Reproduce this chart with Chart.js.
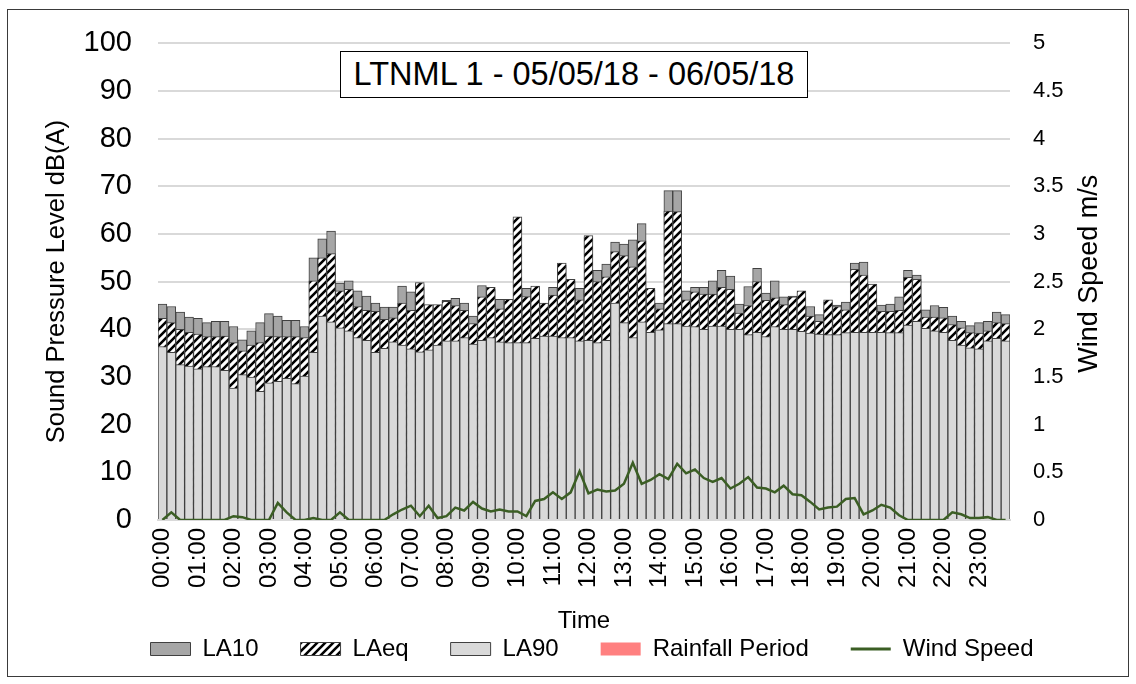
<!DOCTYPE html>
<html>
<head>
<meta charset="utf-8">
<script src="https://cdn.jsdelivr.net/npm/chart.js@4.4.1/dist/chart.umd.min.js"></script>
<style>
  html, body { margin: 0; padding: 0; background: #fff; }
  #wrap { position: relative; width: 1136px; height: 684px; }
  #frame { position: absolute; left: 7px; top: 9px; width: 1122px; height: 668px; border: 1px solid #3a3a3a; box-sizing: border-box; pointer-events: none; }
  #title { position: absolute; left: 340px; top: 51px; width: 468px; height: 47px; border: 1px solid #000; background: #fff; box-sizing: border-box;
           font: 32.5px "Liberation Sans", Arial, sans-serif; text-align: center; line-height: 45px; color: #000; white-space: nowrap; }
</style>
</head>
<body>
<div id="wrap">
  <canvas id="noiseChart" width="1136" height="684"></canvas>
  <div id="frame"></div>
  <div id="title">LTNML 1 - 05/05/18 - 06/05/18</div>
</div>
<script>
// 15 minute periods
const times = [
  "00:00","00:15","00:30","00:45","01:00","01:15","01:30","01:45",
  "02:00","02:15","02:30","02:45","03:00","03:15","03:30","03:45",
  "04:00","04:15","04:30","04:45","05:00","05:15","05:30","05:45",
  "06:00","06:15","06:30","06:45","07:00","07:15","07:30","07:45",
  "08:00","08:15","08:30","08:45","09:00","09:15","09:30","09:45",
  "10:00","10:15","10:30","10:45","11:00","11:15","11:30","11:45",
  "12:00","12:15","12:30","12:45","13:00","13:15","13:30","13:45",
  "14:00","14:15","14:30","14:45","15:00","15:15","15:30","15:45",
  "16:00","16:15","16:30","16:45","17:00","17:15","17:30","17:45",
  "18:00","18:15","18:30","18:45","19:00","19:15","19:30","19:45",
  "20:00","20:15","20:30","20:45","21:00","21:15","21:30","21:45",
  "22:00","22:15","22:30","22:45","23:00","23:15","23:30","23:45"
];

const la10 = [
  45.3, 44.8, 43.6, 42.6, 42.3, 41.4, 41.7, 41.7, 40.6, 37.8, 39.7, 41.4,
  43.3, 42.8, 41.9, 41.9, 40.6, 55.0, 59.0, 60.6, 49.7, 50.2, 48.1, 47.0,
  45.5, 44.7, 44.7, 49.1, 47.9, 49.4, 44.8, 44.8, 46.1, 46.5, 45.5, 42.8,
  49.2, 48.4, 46.3, 45.9, 63.2, 48.6, 48.7, 45.1, 48.8, 53.5, 50.1, 48.6,
  59.3, 52.4, 53.7, 58.3, 57.9, 58.8, 62.2, 48.2, 45.5, 69.1, 69.1, 48.1,
  48.8, 48.8, 50.2, 52.4, 51.2, 45.3, 49.0, 52.8, 47.6, 50.2, 46.8, 47.0,
  47.7, 44.8, 43.1, 45.8, 45.1, 45.7, 53.9, 54.1, 49.1, 45.1, 45.3, 46.8,
  52.4, 51.4, 44.1, 45.0, 44.6, 42.8, 41.7, 40.8, 41.4, 41.7, 43.6, 43.1
];

const laeq = [
  42.3, 41.4, 40.0, 39.4, 39.0, 38.5, 38.5, 38.6, 37.2, 35.5, 36.7, 37.2,
  38.6, 38.5, 38.5, 38.5, 38.3, 50.2, 55.0, 55.9, 48.1, 48.4, 44.8, 44.0,
  43.8, 42.1, 42.4, 45.5, 44.0, 49.8, 45.2, 45.2, 45.9, 45.0, 44.0, 41.2,
  46.8, 48.8, 44.3, 46.3, 63.6, 46.9, 49.1, 45.5, 47.2, 53.9, 50.5, 46.2,
  59.7, 50.0, 51.0, 56.3, 55.5, 53.1, 58.6, 48.6, 44.3, 64.8, 64.7, 46.2,
  47.9, 47.4, 47.4, 48.8, 48.4, 43.4, 45.0, 50.0, 46.1, 46.6, 45.2, 46.8,
  48.1, 42.8, 41.7, 46.2, 44.8, 44.1, 52.6, 51.4, 49.5, 43.8, 43.8, 44.0,
  50.9, 50.5, 42.6, 42.6, 42.4, 41.0, 40.3, 39.3, 39.2, 39.7, 41.4, 41.2
];

const la90 = [
  36.4, 35.2, 32.6, 32.3, 31.7, 32.2, 32.2, 31.4, 27.7, 30.5, 30.0, 27.0,
  28.8, 29.1, 29.7, 28.6, 30.2, 35.2, 42.8, 41.6, 40.3, 39.7, 38.3, 37.7,
  35.2, 36.0, 37.4, 36.7, 35.9, 35.3, 35.7, 36.7, 37.6, 37.6, 38.3, 36.9,
  37.7, 38.3, 37.4, 37.2, 37.2, 37.2, 38.1, 38.6, 38.6, 38.3, 38.3, 37.6,
  37.7, 37.2, 37.7, 45.5, 41.4, 38.3, 41.6, 39.4, 39.9, 41.2, 41.2, 40.7,
  40.6, 40.0, 40.7, 40.7, 40.0, 40.0, 38.9, 39.4, 38.5, 40.6, 40.0, 40.0,
  39.6, 39.2, 39.0, 38.9, 38.9, 39.3, 39.4, 39.4, 39.4, 39.4, 39.3, 39.3,
  40.9, 41.7, 40.2, 39.7, 39.4, 37.7, 36.7, 36.1, 35.9, 37.6, 38.1, 37.6
];

const windSpeed = [
  0.00, 0.08, 0.00, 0.00, 0.00, 0.00, 0.00, 0.00, 0.04, 0.03, 0.00, 0.00,
  0.00, 0.18, 0.08, 0.00, 0.00, 0.02, 0.00, 0.00, 0.08, 0.00, 0.00, 0.00,
  0.00, 0.00, 0.06, 0.11, 0.15, 0.04, 0.15, 0.02, 0.04, 0.13, 0.10, 0.19,
  0.12, 0.09, 0.11, 0.09, 0.09, 0.04, 0.20, 0.22, 0.29, 0.22, 0.29, 0.51,
  0.28, 0.32, 0.30, 0.31, 0.38, 0.60, 0.38, 0.42, 0.48, 0.43, 0.59, 0.49,
  0.53, 0.44, 0.40, 0.44, 0.33, 0.38, 0.45, 0.34, 0.33, 0.29, 0.36, 0.27,
  0.26, 0.19, 0.11, 0.13, 0.14, 0.22, 0.23, 0.06, 0.10, 0.16, 0.13, 0.05,
  0.00, 0.00, 0.00, 0.00, 0.00, 0.08, 0.06, 0.02, 0.02, 0.03, 0.00, 0.00
];

const rainfall = [];

const dbTicks = { min: 0, max: 100, step: 10 };
const windTicks = { min: 0, max: 5, step: 0.5 };

// hatch for LAeq (wide upward diagonal)
const makeHatch = () => {
    const c = document.createElement('canvas');
    c.width = 8;
    c.height = 8;
    const g = c.getContext('2d');
    g.fillStyle = '#fff';
    g.fillRect(0, 0, 8, 8);
    g.strokeStyle = '#000';
    g.lineWidth = 2.6;
    g.beginPath();
    g.moveTo(-1, 9); g.lineTo(9, -1);
    g.moveTo(-3, 3); g.lineTo(3, -3);
    g.moveTo(5, 11); g.lineTo(11, 5);
    g.stroke();
    return g.createPattern(c, 'repeat');
};

// right axis title reads bottom to top like the left one
const rightTitle = {
    id: 'rightTitle',
    afterDraw(chart) {
        const { ctx, chartArea } = chart;
        const s = chart.scales.y1;
        ctx.save();
        ctx.translate(s.right - 38, (chartArea.top + chartArea.bottom) / 2 - 8);
        ctx.rotate(-Math.PI / 2);
        ctx.font = '27px "Liberation Sans", Arial, sans-serif';
        ctx.fillStyle = '#000';
        ctx.textAlign = 'center';
        ctx.textBaseline = 'middle';
        ctx.fillText('Wind Speed m/s', 0, 0);
        ctx.restore();
    }
};

// legend sits a little right of centre in the original
const legendShift = {
    id: 'legendShift',
    afterLayout(chart) {
        chart.legend.left += 24;
        chart.legend.right += 24;
    }
};

Chart.defaults.font.family = '"Liberation Sans", Arial, sans-serif';
Chart.defaults.color = '#000';
const baseLabels = Chart.defaults.plugins.legend.labels.generateLabels;

const ctx = document.getElementById('noiseChart').getContext('2d');
new Chart(ctx, {
    type: 'bar',
    data: {
        labels: times,
        datasets: [
            { label: 'LA10', data: la10, backgroundColor: '#a6a6a6', borderColor: '#404040', borderWidth: 1, order: 3 },
            { label: 'LAeq', data: laeq, backgroundColor: makeHatch(), borderColor: '#404040', borderWidth: 1, order: 2 },
            { label: 'LA90', data: la90, backgroundColor: '#d9d9d9', borderColor: '#404040', borderWidth: 1, order: 1 },
            { label: 'Rainfall Period', data: rainfall, backgroundColor: '#ff8080', borderWidth: 0, order: 4 },
            { label: 'Wind Speed', type: 'line', data: windSpeed, yAxisID: 'y1', borderColor: '#3b5e24',
              borderWidth: 2.5, pointRadius: 0, tension: 0, order: 0 }
        ]
    },
    options: {
        responsive: false,
        animation: false,
        layout: { padding: { top: 37, left: 8, right: 8, bottom: 13 } },
        datasets: { bar: { grouped: false, barPercentage: 1, categoryPercentage: 1 } },
        scales: {
            x: {
                ticks: {
                    autoSkip: false, maxRotation: 90, minRotation: 90, padding: 8,
                    font: { size: 24 },
                    callback(v, i) { return i % 4 === 0 ? this.getLabelForValue(v) : ''; }
                },
                grid: { display: false, drawTicks: false },
                border: { display: true, color: '#d9d9d9', width: 2 },
                title: { display: true, text: 'Time', font: { size: 24 }, padding: { top: 0, bottom: -41 } },
                afterFit(s) { s.height = 75; }
            },
            y: {
                min: dbTicks.min, max: dbTicks.max,
                ticks: { stepSize: dbTicks.step, padding: 26, font: { size: 29 } },
                grid: { color: '#d9d9d9', lineWidth: 2, drawTicks: false },
                border: { display: false },
                title: { display: true, text: 'Sound Pressure Level dB(A)', font: { size: 25.5 }, padding: { top: 34, bottom: 0 } },
                afterFit(s) { s.width = 150; }
            },
            y1: {
                position: 'right',
                min: windTicks.min, max: windTicks.max,
                ticks: { stepSize: windTicks.step, padding: 23, font: { size: 22 }, callback: v => String(v) },
                grid: { drawOnChartArea: false, drawTicks: false },
                border: { display: false },
                afterFit(s) { s.width = 118; }
            }
        },
        plugins: {
            tooltip: { enabled: false },
            legend: {
                position: 'bottom',
                labels: {
                    usePointStyle: true, pointStyleWidth: 40, boxHeight: 13, padding: 42,
                    font: { size: 24 },
                    sort: (a, b) => a.datasetIndex - b.datasetIndex,
                    generateLabels(chart) {
                        return baseLabels(chart).map(item => {
                            item.pointStyle = item.datasetIndex === 4 ? 'line' : 'rect';
                            if (item.datasetIndex === 4) item.lineWidth = 3;
                            return item;
                        });
                    }
                }
            }
        }
    },
    plugins: [rightTitle, legendShift]
});
</script>
</body>
</html>
